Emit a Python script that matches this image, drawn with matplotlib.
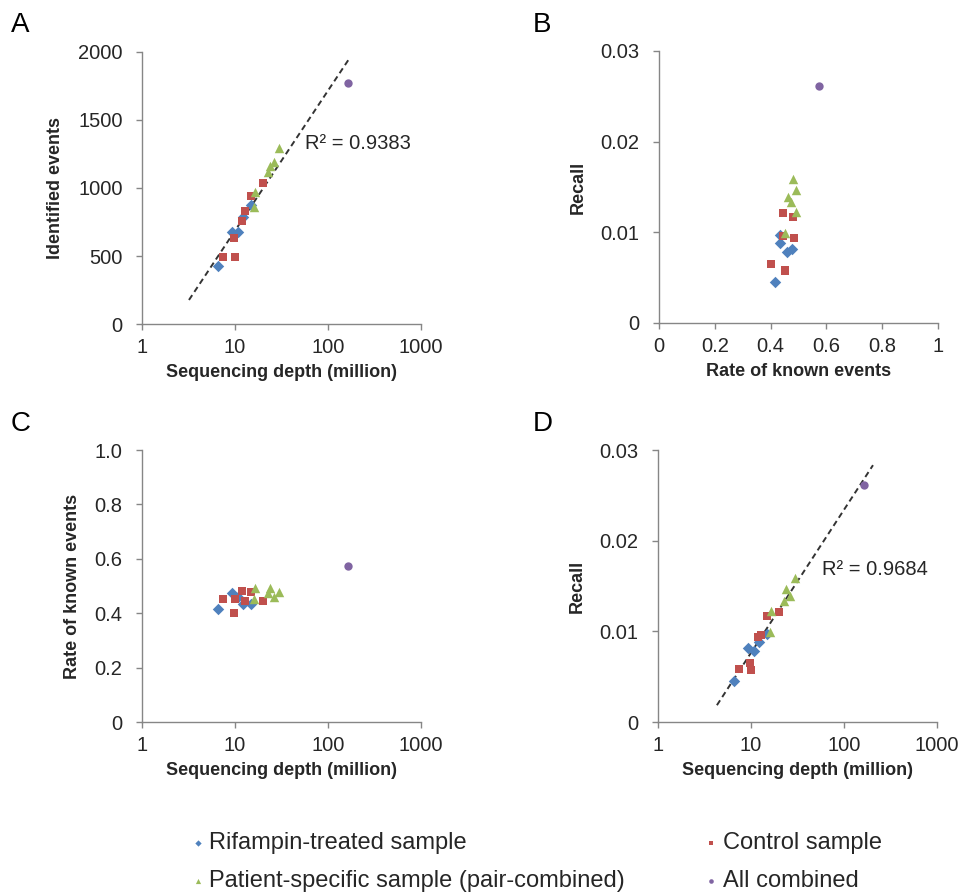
import numpy as np
import matplotlib.pyplot as plt
from matplotlib.ticker import FixedLocator, FixedFormatter

plt.rcParams['font.family'] = ['Liberation Sans', 'DejaVu Sans']

# per-sample values: sequencing depth (million), identified events, rate of known events, recall
rif_depth = [6.6, 9.3, 10.8, 12.2, 15.0]
rif_ident = [430, 680, 680, 790, 875]
rif_rate = [0.414, 0.475, 0.458, 0.434, 0.434]
rif_recall = [0.0045, 0.0082, 0.0078, 0.0088, 0.0097]

ctl_depth = [7.4, 9.8, 10.0, 11.8, 12.8, 15.0, 19.8]
ctl_ident = [493, 630, 493, 760, 830, 940, 1040]
ctl_rate = [0.452, 0.401, 0.451, 0.483, 0.446, 0.479, 0.446]
ctl_recall = [0.0058, 0.0065, 0.0057, 0.0094, 0.0096, 0.0117, 0.0121]

pat_depth = [16.0, 16.5, 22.5, 26.0, 24.0, 30.0]
pat_ident = [860, 970, 1120, 1190, 1165, 1294]
pat_rate = [0.451, 0.491, 0.473, 0.461, 0.491, 0.479]
pat_recall = [0.0099, 0.0122, 0.0134, 0.0139, 0.0147, 0.0159]

all_depth = [164]
all_ident = [1770]
all_rate = [0.574]
all_recall = [0.0261]

r2_a = "R² = 0.9383"
r2_d = "R² = 0.9684"

groups = [
    ("Rifampin-treated sample", "D", "#4F81BD", 34, rif_depth, rif_ident, rif_rate, rif_recall),
    ("Control sample", "s", "#C0504D", 38, ctl_depth, ctl_ident, ctl_rate, ctl_recall),
    ("Patient-specific sample (pair-combined)", "^", "#9BBB59", 46, pat_depth, pat_ident, pat_rate, pat_recall),
    ("All combined", "o", "#8064A2", 36, all_depth, all_ident, all_rate, all_recall),
]

grey = "#868686"
txt = "#262626"

fig = plt.figure(figsize=(9.62, 8.96), dpi=100)
axA = fig.add_axes([142 / 962, 1 - 324 / 896, 279 / 962, 272 / 896])
axB = fig.add_axes([659 / 962, 1 - 323 / 896, 279 / 962, 272 / 896])
axC = fig.add_axes([142 / 962, 1 - 722 / 896, 279 / 962, 272 / 896])
axD = fig.add_axes([658 / 962, 1 - 722 / 896, 279 / 962, 272 / 896])


def style(ax):
    for s in ["top", "right"]:
        ax.spines[s].set_visible(False)
    for s in ["left", "bottom"]:
        ax.spines[s].set_color(grey)
        ax.spines[s].set_linewidth(1.0)
    ax.tick_params(direction="out", length=4, width=1, color=grey,
                   labelsize=14.5, labelcolor=txt)
    ax.tick_params(axis="x", pad=6)
    ax.tick_params(axis="y", pad=10)


def log_x(ax):
    ax.set_xscale("log")
    ax.set_xlim(1, 1000)
    ax.xaxis.set_major_locator(FixedLocator([1, 10, 100, 1000]))
    ax.xaxis.set_major_formatter(FixedFormatter(["1", "10", "100", "1000"]))
    ax.xaxis.set_minor_locator(FixedLocator([]))


handles = []
for name, m, c, s, dep, ide, rate, rec in groups:
    h = axA.scatter(dep, ide, marker=m, color=c, s=s, label=name, zorder=3, linewidths=0)
    axB.scatter(rate, rec, marker=m, color=c, s=s, zorder=3, linewidths=0)
    axC.scatter(dep, rate, marker=m, color=c, s=s, zorder=3, linewidths=0)
    axD.scatter(dep, rec, marker=m, color=c, s=s, zorder=3, linewidths=0)
    handles.append(h)

# log trendlines
all_x = np.array(rif_depth + ctl_depth + pat_depth + all_depth)
all_id = np.array(rif_ident + ctl_ident + pat_ident + all_ident)
all_rc = np.array(rif_recall + ctl_recall + pat_recall + all_recall)

ka, ba = np.polyfit(np.log10(all_x), all_id, 1)
xa = np.array([3.2, 165])
axA.plot(xa, ka * np.log10(xa) + ba, color="#333333", lw=1.4, ls=(0, (3, 2)), zorder=2)

kd, bd = np.polyfit(np.log10(all_x), all_rc, 1)
xd = np.array([4.3, 205])
axD.plot(xd, kd * np.log10(xd) + bd, color="#333333", lw=1.4, ls=(0, (3, 2)), zorder=2)

lab_kw = dict(fontsize=13, fontweight="bold", color=txt)

# panel A
style(axA)
log_x(axA)
axA.set_ylim(0, 2000)
axA.set_yticks([0, 500, 1000, 1500, 2000])
axA.set_xlabel("Sequencing depth (million)", labelpad=5, **lab_kw)
axA.set_ylabel("Identified events", labelpad=10, **lab_kw)
axA.text(56, 1330, r2_a, fontsize=14.5, color=txt, va="center")

# panel B
style(axB)
axB.set_xlim(0, 1)
axB.set_ylim(0, 0.03)
axB.set_xticks([0, 0.2, 0.4, 0.6, 0.8, 1])
axB.set_xticklabels(["0", "0.2", "0.4", "0.6", "0.8", "1"])
axB.set_yticks([0, 0.01, 0.02, 0.03])
axB.set_yticklabels(["0", "0.01", "0.02", "0.03"])
axB.set_xlabel("Rate of known events", labelpad=5, **lab_kw)
axB.set_ylabel("Recall", labelpad=10, **lab_kw)

# panel C
style(axC)
log_x(axC)
axC.set_ylim(0, 1.0)
axC.set_yticks([0, 0.2, 0.4, 0.6, 0.8, 1.0])
axC.set_yticklabels(["0", "0.2", "0.4", "0.6", "0.8", "1.0"])
axC.set_xlabel("Sequencing depth (million)", labelpad=5, **lab_kw)
axC.set_ylabel("Rate of known events", labelpad=10, **lab_kw)

# panel D
style(axD)
log_x(axD)
axD.set_ylim(0, 0.03)
axD.set_yticks([0, 0.01, 0.02, 0.03])
axD.set_yticklabels(["0", "0.01", "0.02", "0.03"])
axD.set_xlabel("Sequencing depth (million)", labelpad=5, **lab_kw)
axD.set_ylabel("Recall", labelpad=10, **lab_kw)
axD.text(58, 0.0168, r2_d, fontsize=14.5, color=txt, va="center")

# panel letters
for lab, x, y in [("A", 11, 25), ("B", 533, 25), ("C", 11, 424), ("D", 533, 424)]:
    fig.text(x / 962, 1 - y / 896, lab, fontsize=20, color="black", va="center")

order = [handles[0], handles[2], handles[1], handles[3]]
fig.legend(order, [h.get_label() for h in order], ncol=2, frameon=False,
           loc="center left", bbox_to_anchor=(168 / 962, 1 - 862 / 896),
           fontsize=17, handletextpad=0.15, handlelength=0.7, markerscale=0.55,
           columnspacing=3.3, labelspacing=0.7, labelcolor=txt)

fig.savefig("out.png", dpi=100)
